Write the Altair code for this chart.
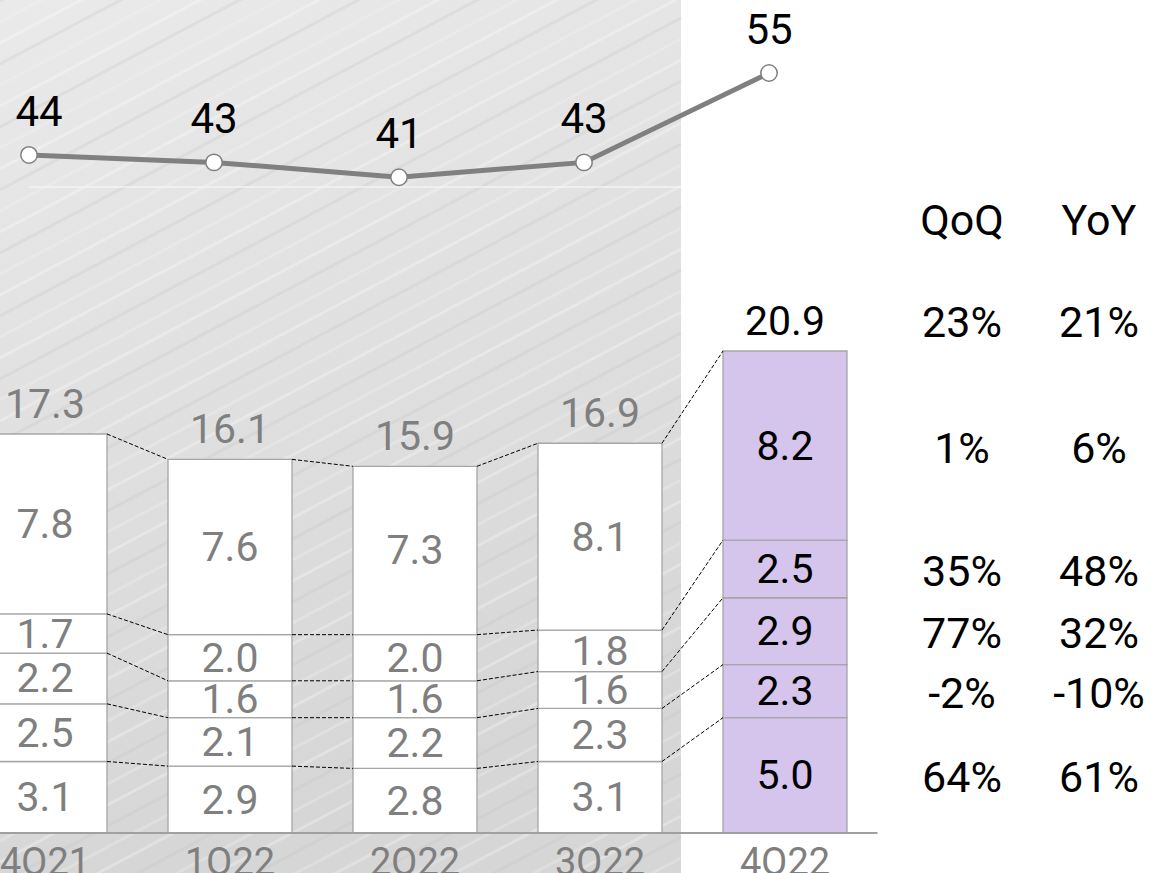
import altair as alt
import numpy as np
import pandas as pd

# ---- data -------------------------------------------------------------
quarters = ["4Q21", "1Q22", "2Q22", "3Q22", "4Q22"]
seg_a = [3.1, 2.9, 2.8, 3.1, 5.0]   # bottom segment
seg_b = [2.5, 2.1, 2.2, 2.3, 2.3]
seg_c = [2.2, 1.6, 1.6, 1.6, 2.9]
seg_d = [1.7, 2.0, 2.0, 1.8, 2.5]
seg_e = [7.8, 7.6, 7.3, 8.1, 8.2]   # top segment
totals = [17.3, 16.1, 15.9, 16.9, 20.9]
rate = [44, 43, 41, 43, 55]
qoq_segments = ["64%", "-2%", "77%", "35%", "1%"]
yoy_segments = ["61%", "-10%", "32%", "48%", "6%"]
qoq_total = "23%"
yoy_total = "21%"
rate_floor = 39.7

# ---- layout / style ---------------------------------------------------
W, H = 1155, 873
FONT = "Roboto"
GRAY_TXT = "#7f7f7f"
OUTLINE = "#a6a6a6"
PURPLE = "#d5c4eb"
HALF_BAR = 62
LINE_SHIFT = -16
LAST = quarters[-1]
NUM_SIZE = 41

xs = alt.Scale(domain=[-0.2432, 6.0], nice=False, zero=False)
ys = alt.Scale(domain=[-1.735, 36.12], nice=False, zero=False)
rs = alt.Scale(domain=[-52.4, 64.8], nice=False, zero=False)
px_x = alt.Scale(domain=[0, W], range=[0, W], nice=False, zero=False)
px_y = alt.Scale(domain=[0, H], range=[0, H], nice=False, zero=False)

segments = [seg_a, seg_b, seg_c, seg_d, seg_e]
rows = []
for i, q in enumerate(quarters):
    base = 0.0
    for k, seg in enumerate(segments):
        v = seg[i]
        rows.append(dict(quarter=q, idx=i, level=k, value=v, start=base,
                         end=base + v, mid=base + v / 2, label=f"{v:.1f}"))
        base += v
stack = pd.DataFrame(rows)

tops = stack[stack.level == len(segments) - 1][["quarter", "idx", "end"]].copy()
tops["label"] = [f"{t:.1f}" for t in totals]

conn = []
for i in range(len(quarters) - 1):
    for k in range(len(segments)):
        a = stack[(stack.idx == i) & (stack.level == k)].iloc[0]
        b = stack[(stack.idx == i + 1) & (stack.level == k)].iloc[0]
        conn.append(dict(i0=i, i1=i + 1, y0=a.end, y1=b.end))
conn = pd.DataFrame(conn)

line_df = pd.DataFrame(dict(quarter=quarters, idx=range(len(quarters)), rate=rate))

last = stack[stack.quarter == LAST].copy()
last["qoq"] = qoq_segments
last["yoy"] = yoy_segments
last_top = tops[tops.quarter == LAST].copy()
last_top["qoq"] = qoq_total
last_top["yoy"] = yoy_total
last_top["h1"] = "QoQ"
last_top["h2"] = "YoY"

one = pd.DataFrame(dict(l=[-1.0], r=[3.0], f0=[0.0], f1=[3.438], fl=[rate_floor],
                        a0=[-0.5], a1=[4.5]))

# diagonal texture of the shaded panel (pixel space)
stripe_c = np.arange(-20, 1260, 21)
stripes = pd.DataFrame(dict(x0=0.0, x1=681.0, y0=stripe_c, y1=stripe_c - 361.0,
                            tone=np.arange(len(stripe_c)) % 3))

# ---- layers -----------------------------------------------------------
panel = alt.Chart(one).mark_rect(
    fill={"gradient": "linear", "x1": 0, "y1": 0, "x2": 0.3, "y2": 1,
          "stops": [{"offset": 0, "color": "#ebebeb"},
                    {"offset": 1, "color": "#d6d6d6"}]},
    x2Offset=81,
).encode(
    x=alt.X("l:Q", scale=xs, axis=None), x2="r:Q",
    y=alt.value(0), y2=alt.value(H),
)

texture = alt.Chart(stripes).mark_rule(strokeWidth=3).encode(
    x=alt.X("x0:Q", scale=px_x, axis=None), x2="x1:Q",
    y=alt.Y("y0:Q", scale=px_y, axis=None), y2="y1:Q",
    color=alt.Color("tone:N", scale=alt.Scale(domain=[0, 1, 2],
                    range=["#ffffff", "#c4c4c4", "#f4f4f4"]), legend=None),
    opacity=alt.value(0.28),
)

floor = alt.Chart(one).mark_rule(color="#f3f3f3", strokeWidth=1.5, xOffset=LINE_SHIFT).encode(
    x=alt.X("f0:Q", scale=xs, axis=None), x2="f1:Q",
    y=alt.Y("fl:Q", scale=rs, axis=None),
)

bars = alt.Chart(stack).mark_rect(stroke=OUTLINE, strokeWidth=1.3,
                                  xOffset=-HALF_BAR, x2Offset=HALF_BAR).encode(
    x=alt.X("idx:Q", scale=xs, axis=None), x2="idx:Q",
    y=alt.Y("start:Q", scale=ys, axis=None), y2="end:Q",
    fill=alt.condition(alt.datum.quarter == LAST, alt.value(PURPLE), alt.value("white")),
)

connectors = alt.Chart(conn).mark_rule(color="black", strokeWidth=1, strokeDash=[4, 2],
                                       xOffset=HALF_BAR, x2Offset=-HALF_BAR).encode(
    x=alt.X("i0:Q", scale=xs, axis=None), x2="i1:Q",
    y=alt.Y("y0:Q", scale=ys, axis=None), y2="y1:Q",
)

txt_color = alt.condition(alt.datum.quarter == LAST, alt.value("black"), alt.value(GRAY_TXT))

seg_labels = alt.Chart(stack).mark_text(font=FONT, fontSize=NUM_SIZE, baseline="middle", dy=2).encode(
    x=alt.X("idx:Q", scale=xs, axis=None),
    y=alt.Y("mid:Q", scale=ys, axis=None),
    text="label:N", color=txt_color,
)

top_labels = alt.Chart(tops).mark_text(font=FONT, fontSize=NUM_SIZE, baseline="alphabetic", dy=-16).encode(
    x=alt.X("idx:Q", scale=xs, axis=None),
    y=alt.Y("end:Q", scale=ys, axis=None),
    text="label:N", color=txt_color,
)

baseline = alt.Chart(one).mark_rule(color="#a0a0a0", strokeWidth=2).encode(
    x=alt.X("a0:Q", scale=xs, axis=None), x2="a1:Q",
    y=alt.Y("f0:Q", scale=ys, axis=None),
)

x_labels = alt.Chart(line_df).mark_text(font=FONT, fontSize=38, baseline="alphabetic",
                                        color=GRAY_TXT).encode(
    x=alt.X("idx:Q", scale=xs, axis=None),
    y=alt.value(875),
    text="quarter:N",
)

line = alt.Chart(line_df).mark_line(color="#808080", strokeWidth=5, xOffset=LINE_SHIFT).encode(
    x=alt.X("idx:Q", scale=xs, axis=None),
    y=alt.Y("rate:Q", scale=rs, axis=None),
)

points = alt.Chart(line_df).mark_point(shape="circle", filled=True, fill="white", stroke="#808080",
                                       strokeWidth=1.5, size=270, opacity=1,
                                       xOffset=LINE_SHIFT).encode(
    x=alt.X("idx:Q", scale=xs, axis=None),
    y=alt.Y("rate:Q", scale=rs, axis=None),
)

rate_lab_first = alt.Chart(line_df).transform_filter(alt.datum.idx == 0).mark_text(
    font=FONT, fontSize=42, baseline="alphabetic", dy=-29, dx=10 + LINE_SHIFT, color="black"
).encode(
    x=alt.X("idx:Q", scale=xs, axis=None),
    y=alt.Y("rate:Q", scale=rs, axis=None),
    text="rate:Q",
)

rate_lab_rest = alt.Chart(line_df).transform_filter(alt.datum.idx > 0).mark_text(
    font=FONT, fontSize=42, baseline="alphabetic", dy=-29, dx=LINE_SHIFT, color="black"
).encode(
    x=alt.X("idx:Q", scale=xs, axis=None),
    y=alt.Y("rate:Q", scale=rs, axis=None),
    text="rate:Q",
)

QOQ_DX, YOY_DX = 177, 314


def table_col(df, field, dx, ycol, baseline_, dy):
    return alt.Chart(df).mark_text(font=FONT, fontSize=43, baseline=baseline_, dx=dx, dy=dy,
                                   color="black").encode(
        x=alt.X("idx:Q", scale=xs, axis=None),
        y=alt.Y(f"{ycol}:Q", scale=ys, axis=None),
        text=f"{field}:N",
    )


table = [
    table_col(last, "qoq", QOQ_DX, "mid", "middle", 4),
    table_col(last, "yoy", YOY_DX, "mid", "middle", 4),
    table_col(last_top, "qoq", QOQ_DX, "end", "alphabetic", -14),
    table_col(last_top, "yoy", YOY_DX, "end", "alphabetic", -14),
    table_col(last_top, "h1", QOQ_DX, "end", "alphabetic", -116),
    table_col(last_top, "h2", YOY_DX, "end", "alphabetic", -116),
]

chart = alt.layer(
    panel, texture, floor, bars, connectors, seg_labels, top_labels, baseline, x_labels,
    line, points, rate_lab_first, rate_lab_rest, *table,
).resolve_scale(
    x="independent", y="independent", color="independent", fill="independent"
).properties(
    width=W, height=H, padding=0, autosize="none", background="white"
).configure_view(stroke=None)

chart.save("out.html", embed_options={"renderer": "svg", "actions": False})
